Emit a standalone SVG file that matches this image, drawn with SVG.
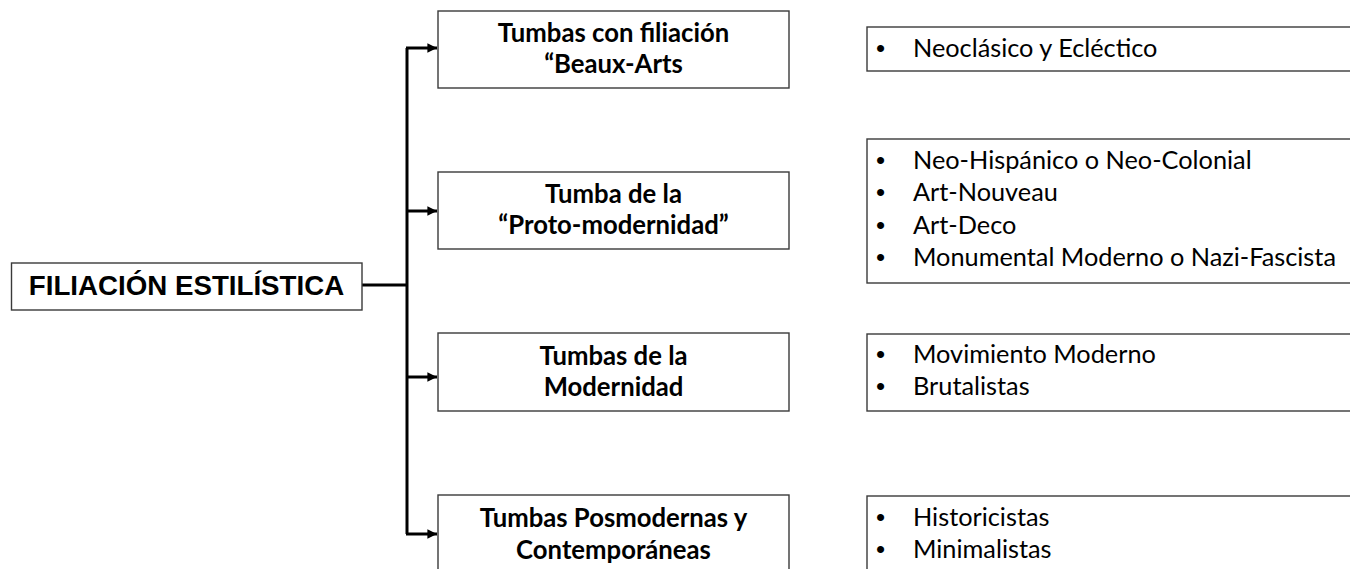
<svg xmlns="http://www.w3.org/2000/svg" width="1350" height="569" viewBox="0 0 1350 569">
<style>
.box{fill:#fff;stroke:#3a3a3a;stroke-width:1.4}
.root{font-family:"Liberation Sans",Arial,sans-serif;font-weight:bold;font-size:27.7px;fill:#000}
.mid{font-family:Lato,"Liberation Sans",sans-serif;font-weight:bold;font-size:25.7px;fill:#000;text-anchor:middle}
.item{font-family:Lato,"Liberation Sans",sans-serif;font-size:25.3px;fill:#000}
.bul{font-family:"Liberation Sans",sans-serif;font-size:26px;fill:#000}
.conn{fill:none;stroke:#000;stroke-width:3}
</style>
<defs>
<marker id="arr" viewBox="0 0 10 10" refX="10" refY="5" markerWidth="3.2" markerHeight="3.2" markerUnits="strokeWidth" orient="auto">
<path d="M0,0 L10,5 L0,10 z" fill="#000"/>
</marker>
</defs>
<rect width="1350" height="569" fill="#fff"/>
<g id="connectors">
<path class="conn" d="M362,285 H407"/>
<path class="conn" d="M407,48 V534"/>
<path class="conn" d="M406,48 H437" marker-end="url(#arr)"/>
<path class="conn" d="M406,211 H437" marker-end="url(#arr)"/>
<path class="conn" d="M406,377 H437" marker-end="url(#arr)"/>
<path class="conn" d="M406,534 H437" marker-end="url(#arr)"/>
</g>
<g id="root">
<rect class="box" x="11.5" y="263" width="350.5" height="47"/>
<text class="root" x="186.5" y="295" text-anchor="middle">FILIACIÓN ESTILÍSTICA</text>
</g>
<g id="n1">
<rect class="box" x="438" y="11" width="351" height="77"/>
<text class="mid" x="613.5" y="42">Tumbas con filiación</text>
<text class="mid" x="613.5" y="73">“Beaux-Arts</text>
</g>
<g id="n2">
<rect class="box" x="438" y="172" width="351" height="77"/>
<text class="mid" x="613.5" y="203">Tumba de la</text>
<text class="mid" x="613.5" y="234">“Proto-modernidad”</text>
</g>
<g id="n3">
<rect class="box" x="438" y="333" width="351" height="78"/>
<text class="mid" x="613.5" y="365">Tumbas de la</text>
<text class="mid" x="613.5" y="396">Modernidad</text>
</g>
<g id="n4">
<rect class="box" x="438" y="495" width="351" height="90"/>
<text class="mid" x="613.5" y="527">Tumbas Posmodernas y</text>
<text class="mid" x="613.5" y="559">Contemporáneas</text>
</g>
<g id="l1">
<rect class="box" x="867" y="27" width="500" height="44"/>
<text class="bul" x="876" y="57">•</text><text class="item" x="913" y="57">Neoclásico y Ecléctico</text>
</g>
<g id="l2">
<rect class="box" x="867" y="139" width="500" height="144"/>
<text class="bul" x="876" y="169">•</text><text class="item" x="913" y="169">Neo-Hispánico o Neo-Colonial</text>
<text class="bul" x="876" y="201">•</text><text class="item" x="913" y="201">Art-Nouveau</text>
<text class="bul" x="876" y="234">•</text><text class="item" x="913" y="234">Art-Deco</text>
<text class="bul" x="876" y="266">•</text><text class="item" x="913" y="266">Monumental Moderno o Nazi-Fascista</text>
</g>
<g id="l3">
<rect class="box" x="867" y="334" width="500" height="77"/>
<text class="bul" x="876" y="363">•</text><text class="item" x="913" y="363">Movimiento Moderno</text>
<text class="bul" x="876" y="395">•</text><text class="item" x="913" y="395">Brutalistas</text>
</g>
<g id="l4">
<rect class="box" x="867" y="496" width="500" height="90"/>
<text class="bul" x="876" y="526">•</text><text class="item" x="913" y="526">Historicistas</text>
<text class="bul" x="876" y="558">•</text><text class="item" x="913" y="558">Minimalistas</text>
</g>
</svg>
